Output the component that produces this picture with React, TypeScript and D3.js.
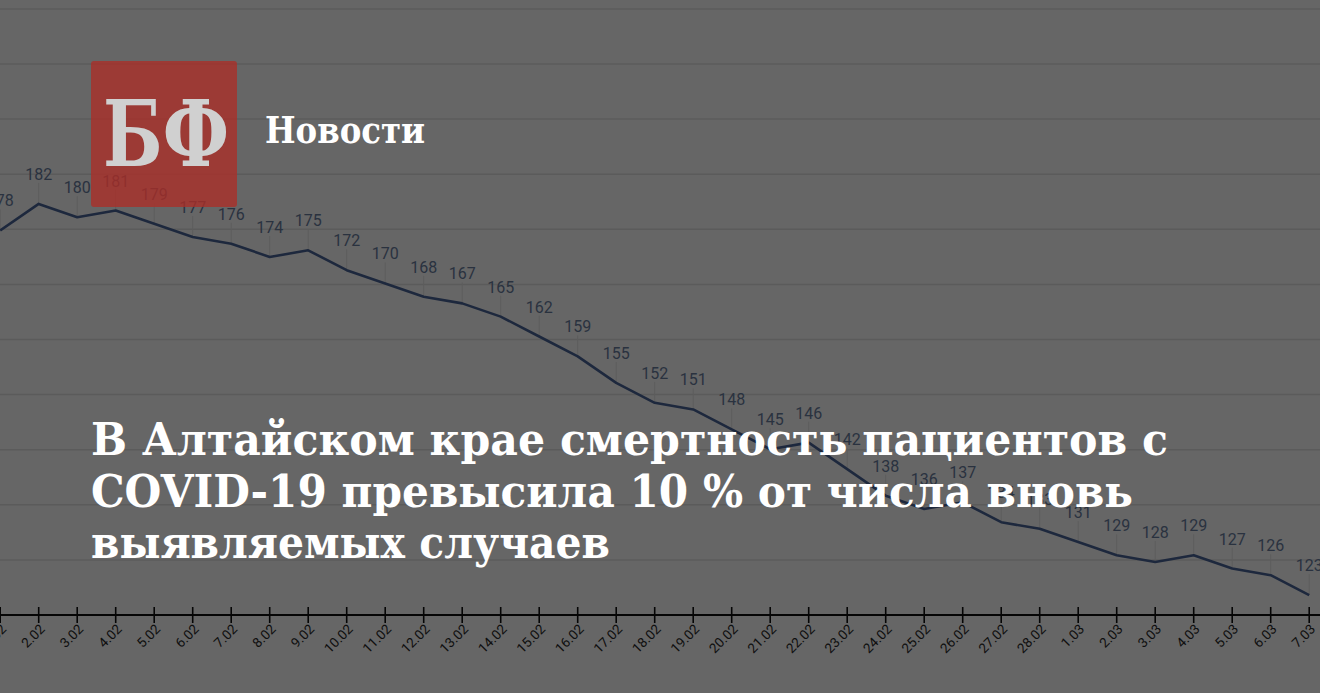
import React from "react";
import * as d3 from "d3";

const dates = [
  "1.02", "2.02", "3.02", "4.02", "5.02", "6.02", "7.02", "8.02", "9.02", "10.02",
  "11.02", "12.02", "13.02", "14.02", "15.02", "16.02", "17.02", "18.02", "19.02", "20.02",
  "21.02", "22.02", "23.02", "24.02", "25.02", "26.02", "27.02", "28.02", "1.03", "2.03",
  "3.03", "4.03", "5.03", "6.03", "7.03",
];
const values = [
  178, 182, 180, 181, 179, 177, 176, 174, 175, 172,
  170, 168, 167, 165, 162, 159, 155, 152, 151, 148,
  145, 146, 142, 138, 136, 137, 134, 133, 131, 129,
  128, 129, 127, 126, 123,
];
const titleLines = [
  "В Алтайском крае смертность пациентов с",
  "COVID-19 превысила 10 % от числа вновь",
  "выявляемых случаев",
];
const titleWidths = [1077, 1042, 519];
const brandMark = "БФ";
const brandName = "Новости";

const W = 1320;
const H = 693;

export default function App() {
  const x = d3.scalePoint<string>().domain(dates).range([0.2, 1309.2]);
  const y = d3.scaleLinear().domain([120, 203.1]).range([615, 64]);
  const gridValues = d3.range(12).map((k) => 120 + k * 8.31);
  const line = d3
    .line<number>()
    .x((_, i) => x(dates[i]) as number)
    .y((d) => y(d));

  return (
    <div style={{ position: "absolute", left: 0, top: 0, width: W, height: H, overflow: "hidden" }}>
      <svg width={W} height={H} style={{ display: "block" }}>
        <rect x={0} y={0} width={W} height={H} fill="#ffffff" />
        {gridValues.map((g, i) => (
          <line key={i} x1={0} x2={W} y1={y(g)} y2={y(g)} stroke="#e3e3e3" strokeWidth={1.5} />
        ))}
        {values.map((v, i) => (
          <line
            key={"d" + i}
            x1={x(dates[i])}
            x2={x(dates[i])}
            y1={y(v) - 21}
            y2={y(v)}
            stroke="#e6e6e6"
            strokeWidth={1}
          />
        ))}
        <path d={line(values) || ""} fill="none" stroke="#4a6498" strokeWidth={2.6} strokeLinejoin="round" />
        {values.map((v, i) => (
          <text
            key={"l" + i}
            x={x(dates[i])}
            y={y(v) - 24}
            textAnchor="middle"
            fontFamily="Roboto"
            fontSize={16}
            fill="#6a7e9f"
          >
            {v}
          </text>
        ))}
        <line x1={0} x2={W} y1={615} y2={615} stroke="#111" strokeWidth={2} />
        {dates.map((d) => (
          <g key={d}>
            <line x1={x(d)} x2={x(d)} y1={607} y2={623} stroke="#111" strokeWidth={1.6} />
            <text
              transform={`translate(${(x(d) as number) + 7},${630}) rotate(-45)`}
              textAnchor="end"
              fontFamily="Roboto"
              fontSize={13.5}
              fill="#2a2a2a"
            >
              {d}
            </text>
          </g>
        ))}
        <rect x={0} y={0} width={W} height={H} fill="#000" opacity={0.6} />
        <rect x={91} y={61} width={146} height={146} rx={3} fill="rgb(172,46,40)" opacity={0.78} />
        <text
          x={103}
          y={166}
          fontFamily="DejaVu Serif"
          fontWeight="bold"
          fontSize={92}
          fill="#d0d0d0"
          textLength={126}
          lengthAdjust="spacingAndGlyphs"
        >
          {brandMark}
        </text>
        <text
          x={265}
          y={143}
          fontFamily="DejaVu Serif"
          fontWeight="bold"
          fontSize={37}
          fill="#ffffff"
          textLength={160}
          lengthAdjust="spacingAndGlyphs"
        >
          {brandName}
        </text>
        {titleLines.map((t, i) => (
          <text
            key={t}
            x={91}
            y={455 + i * 51.5}
            fontFamily="DejaVu Serif"
            fontWeight="bold"
            fontSize={44}
            fill="#ffffff"
            textLength={titleWidths[i]}
            lengthAdjust="spacingAndGlyphs"
          >
            {t}
          </text>
        ))}
      </svg>
    </div>
  );
}
